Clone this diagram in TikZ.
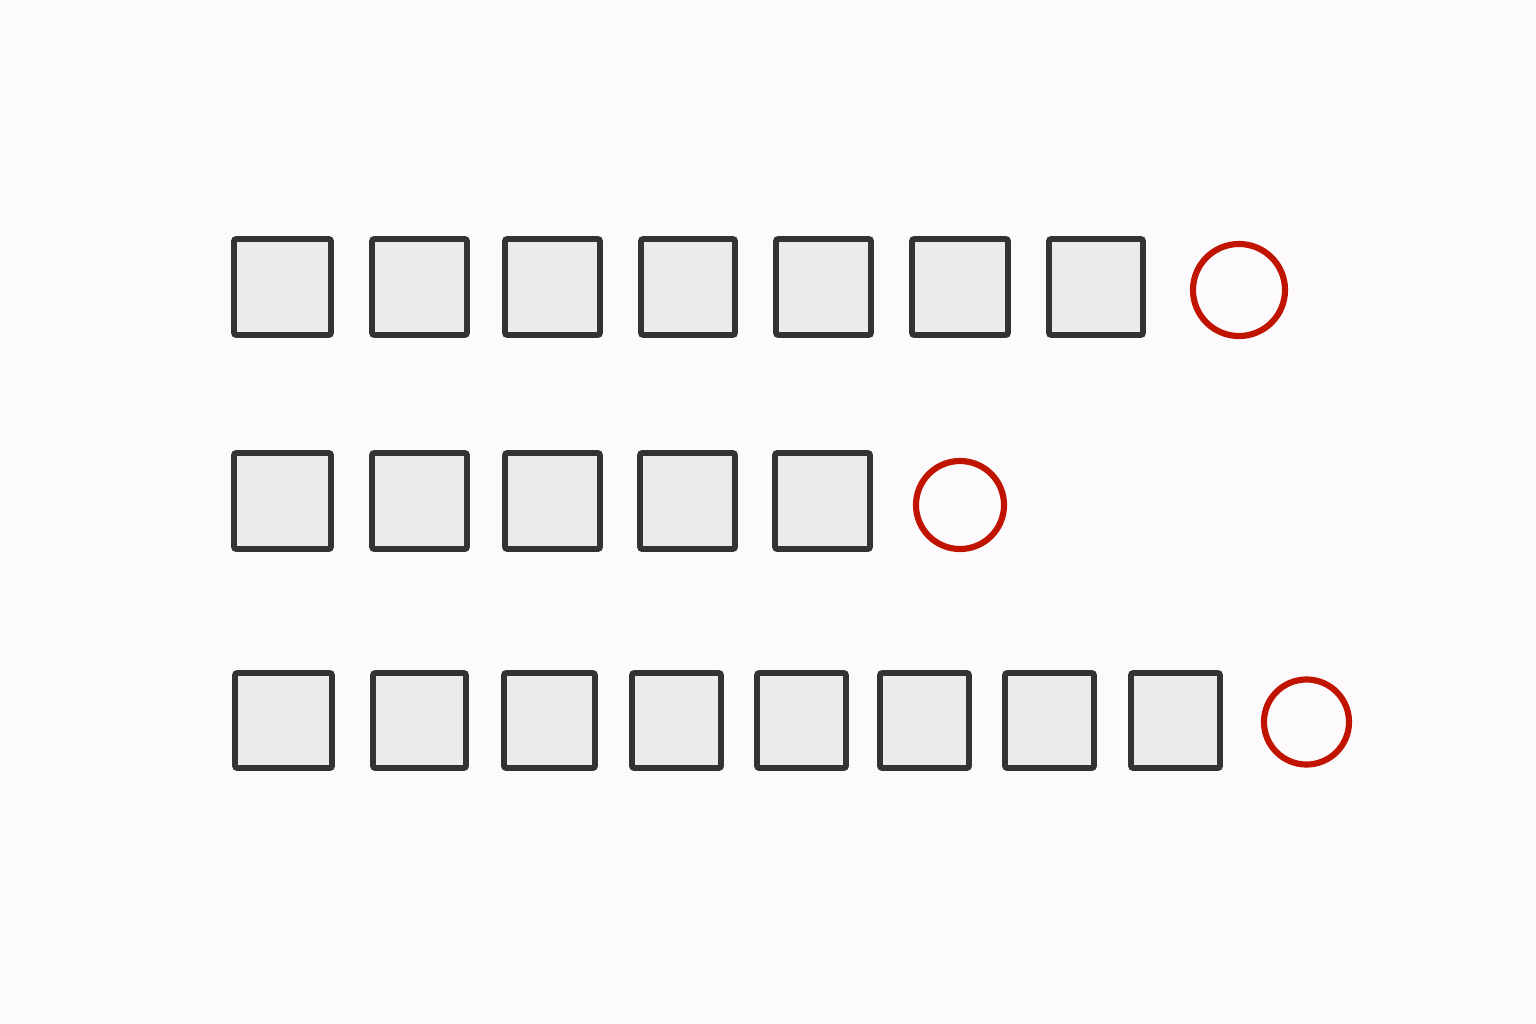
\documentclass[tikz,border=0pt]{standalone}
\usepackage{tikz}

\definecolor{paper}{HTML}{FCFAFC}
\definecolor{boxFill}{HTML}{ECEBEC}
\definecolor{boxLine}{HTML}{333235}
\definecolor{markRed}{HTML}{C01400}

\tikzset{
    cell/.style={draw=boxLine, fill=boxFill, line width=1.6pt, rounded corners=0.6pt, inner sep=0pt},
    endMark/.style={draw=markRed, circle, line width=1.75pt, inner sep=0pt}
}

\begin{document}
\begin{tikzpicture}[x=0.01cm, y=-0.01cm]

    % background, one unit is one pixel
    \fill[paper] (0, 0) rectangle (1536, 1024);
    \useasboundingbox (0, 0) rectangle (1536, 1024);

    \def\rowOneY{287};
    \def\rowTwoY{501};
    \def\rowThreeY{720.5};

    % draw first row
    \foreach \cx/\w [count=\i] in {282.5/97, 419.5/95, 552.5/95, 688/94, 823.5/95, 960/96, 1096/94}
        \node[cell, minimum width=\w*0.01cm, minimum height=0.96cm] (a\i) at (\cx, \rowOneY) {};

    \node[endMark, minimum size=0.92cm] (aEnd) at (1239, 290) {};

    % draw second row
    \foreach \cx/\w [count=\i] in {282.5/97, 419.5/95, 552.5/95, 687.5/95, 822.5/95}
        \node[cell, minimum width=\w*0.01cm, minimum height=0.96cm] (b\i) at (\cx, \rowTwoY) {};

    \node[endMark, minimum size=0.88cm] (bEnd) at (960, 505) {};

    % draw third row
    \foreach \cx/\w [count=\i] in {283.5/97, 419.5/93, 549.5/91, 676.5/89, 801.5/89, 924.5/89, 1049.5/89, 1175.5/89}
        \node[cell, minimum width=\w*0.01cm, minimum height=0.95cm] (c\i) at (\cx, \rowThreeY) {};

    \node[endMark, minimum size=0.85cm] (cEnd) at (1306.5, 722) {};

\end{tikzpicture}
\end{document}
